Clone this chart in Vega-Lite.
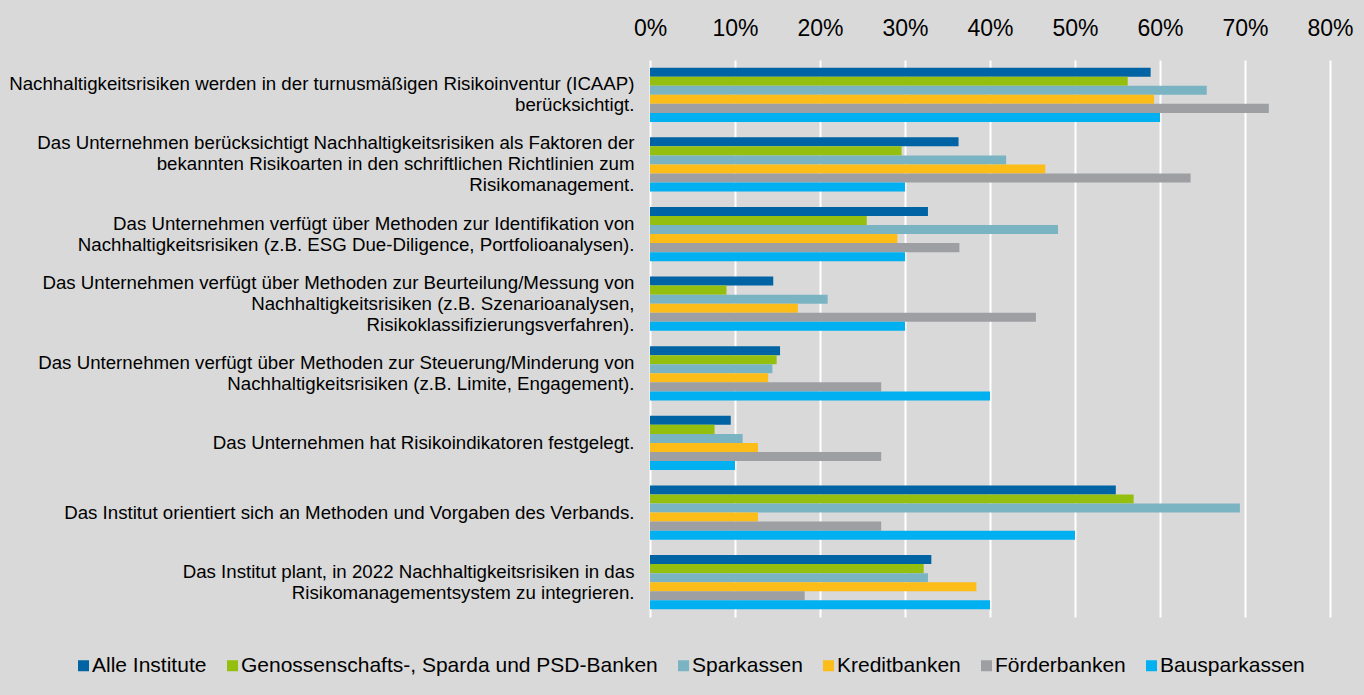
{
  "$schema": "https://vega.github.io/schema/vega-lite/v6.json",
  "width": 680,
  "height": 557,
  "autosize": {"type": "none"},
  "padding": {"left": 650, "top": 60, "right": 34, "bottom": 78},
  "background": "#d9d9d9",
  "config": {"view": {"stroke": null}, "font": "Liberation Sans"},
  "datasets": {
    "d": [
      {"frage": "Nachhaltigkeitsrisiken werden in der turnusmäßigen Risikoinventur (ICAAP)|berücksichtigt.", "gruppe": "Alle Institute", "wert": 0.589},
      {"frage": "Nachhaltigkeitsrisiken werden in der turnusmäßigen Risikoinventur (ICAAP)|berücksichtigt.", "gruppe": "Genossenschafts-, Sparda und PSD-Banken", "wert": 0.562},
      {"frage": "Nachhaltigkeitsrisiken werden in der turnusmäßigen Risikoinventur (ICAAP)|berücksichtigt.", "gruppe": "Sparkassen", "wert": 0.655},
      {"frage": "Nachhaltigkeitsrisiken werden in der turnusmäßigen Risikoinventur (ICAAP)|berücksichtigt.", "gruppe": "Kreditbanken", "wert": 0.593},
      {"frage": "Nachhaltigkeitsrisiken werden in der turnusmäßigen Risikoinventur (ICAAP)|berücksichtigt.", "gruppe": "Förderbanken", "wert": 0.728},
      {"frage": "Nachhaltigkeitsrisiken werden in der turnusmäßigen Risikoinventur (ICAAP)|berücksichtigt.", "gruppe": "Bausparkassen", "wert": 0.600},

      {"frage": "Das Unternehmen berücksichtigt Nachhaltigkeitsrisiken als Faktoren der|bekannten Risikoarten in den schriftlichen Richtlinien zum|Risikomanagement.", "gruppe": "Alle Institute", "wert": 0.363},
      {"frage": "Das Unternehmen berücksichtigt Nachhaltigkeitsrisiken als Faktoren der|bekannten Risikoarten in den schriftlichen Richtlinien zum|Risikomanagement.", "gruppe": "Genossenschafts-, Sparda und PSD-Banken", "wert": 0.296},
      {"frage": "Das Unternehmen berücksichtigt Nachhaltigkeitsrisiken als Faktoren der|bekannten Risikoarten in den schriftlichen Richtlinien zum|Risikomanagement.", "gruppe": "Sparkassen", "wert": 0.419},
      {"frage": "Das Unternehmen berücksichtigt Nachhaltigkeitsrisiken als Faktoren der|bekannten Risikoarten in den schriftlichen Richtlinien zum|Risikomanagement.", "gruppe": "Kreditbanken", "wert": 0.465},
      {"frage": "Das Unternehmen berücksichtigt Nachhaltigkeitsrisiken als Faktoren der|bekannten Risikoarten in den schriftlichen Richtlinien zum|Risikomanagement.", "gruppe": "Förderbanken", "wert": 0.636},
      {"frage": "Das Unternehmen berücksichtigt Nachhaltigkeitsrisiken als Faktoren der|bekannten Risikoarten in den schriftlichen Richtlinien zum|Risikomanagement.", "gruppe": "Bausparkassen", "wert": 0.300},

      {"frage": "Das Unternehmen verfügt über Methoden zur Identifikation von|Nachhaltigkeitsrisiken (z.B. ESG Due-Diligence, Portfolioanalysen).", "gruppe": "Alle Institute", "wert": 0.327},
      {"frage": "Das Unternehmen verfügt über Methoden zur Identifikation von|Nachhaltigkeitsrisiken (z.B. ESG Due-Diligence, Portfolioanalysen).", "gruppe": "Genossenschafts-, Sparda und PSD-Banken", "wert": 0.255},
      {"frage": "Das Unternehmen verfügt über Methoden zur Identifikation von|Nachhaltigkeitsrisiken (z.B. ESG Due-Diligence, Portfolioanalysen).", "gruppe": "Sparkassen", "wert": 0.480},
      {"frage": "Das Unternehmen verfügt über Methoden zur Identifikation von|Nachhaltigkeitsrisiken (z.B. ESG Due-Diligence, Portfolioanalysen).", "gruppe": "Kreditbanken", "wert": 0.291},
      {"frage": "Das Unternehmen verfügt über Methoden zur Identifikation von|Nachhaltigkeitsrisiken (z.B. ESG Due-Diligence, Portfolioanalysen).", "gruppe": "Förderbanken", "wert": 0.364},
      {"frage": "Das Unternehmen verfügt über Methoden zur Identifikation von|Nachhaltigkeitsrisiken (z.B. ESG Due-Diligence, Portfolioanalysen).", "gruppe": "Bausparkassen", "wert": 0.300},

      {"frage": "Das Unternehmen verfügt über Methoden zur Beurteilung/Messung von|Nachhaltigkeitsrisiken (z.B. Szenarioanalysen,|Risikoklassifizierungsverfahren).", "gruppe": "Alle Institute", "wert": 0.145},
      {"frage": "Das Unternehmen verfügt über Methoden zur Beurteilung/Messung von|Nachhaltigkeitsrisiken (z.B. Szenarioanalysen,|Risikoklassifizierungsverfahren).", "gruppe": "Genossenschafts-, Sparda und PSD-Banken", "wert": 0.090},
      {"frage": "Das Unternehmen verfügt über Methoden zur Beurteilung/Messung von|Nachhaltigkeitsrisiken (z.B. Szenarioanalysen,|Risikoklassifizierungsverfahren).", "gruppe": "Sparkassen", "wert": 0.209},
      {"frage": "Das Unternehmen verfügt über Methoden zur Beurteilung/Messung von|Nachhaltigkeitsrisiken (z.B. Szenarioanalysen,|Risikoklassifizierungsverfahren).", "gruppe": "Kreditbanken", "wert": 0.174},
      {"frage": "Das Unternehmen verfügt über Methoden zur Beurteilung/Messung von|Nachhaltigkeitsrisiken (z.B. Szenarioanalysen,|Risikoklassifizierungsverfahren).", "gruppe": "Förderbanken", "wert": 0.454},
      {"frage": "Das Unternehmen verfügt über Methoden zur Beurteilung/Messung von|Nachhaltigkeitsrisiken (z.B. Szenarioanalysen,|Risikoklassifizierungsverfahren).", "gruppe": "Bausparkassen", "wert": 0.300},

      {"frage": "Das Unternehmen verfügt über Methoden zur Steuerung/Minderung von|Nachhaltigkeitsrisiken (z.B. Limite, Engagement).", "gruppe": "Alle Institute", "wert": 0.153},
      {"frage": "Das Unternehmen verfügt über Methoden zur Steuerung/Minderung von|Nachhaltigkeitsrisiken (z.B. Limite, Engagement).", "gruppe": "Genossenschafts-, Sparda und PSD-Banken", "wert": 0.149},
      {"frage": "Das Unternehmen verfügt über Methoden zur Steuerung/Minderung von|Nachhaltigkeitsrisiken (z.B. Limite, Engagement).", "gruppe": "Sparkassen", "wert": 0.144},
      {"frage": "Das Unternehmen verfügt über Methoden zur Steuerung/Minderung von|Nachhaltigkeitsrisiken (z.B. Limite, Engagement).", "gruppe": "Kreditbanken", "wert": 0.139},
      {"frage": "Das Unternehmen verfügt über Methoden zur Steuerung/Minderung von|Nachhaltigkeitsrisiken (z.B. Limite, Engagement).", "gruppe": "Förderbanken", "wert": 0.272},
      {"frage": "Das Unternehmen verfügt über Methoden zur Steuerung/Minderung von|Nachhaltigkeitsrisiken (z.B. Limite, Engagement).", "gruppe": "Bausparkassen", "wert": 0.400},

      {"frage": "Das Unternehmen hat Risikoindikatoren festgelegt.", "gruppe": "Alle Institute", "wert": 0.095},
      {"frage": "Das Unternehmen hat Risikoindikatoren festgelegt.", "gruppe": "Genossenschafts-, Sparda und PSD-Banken", "wert": 0.076},
      {"frage": "Das Unternehmen hat Risikoindikatoren festgelegt.", "gruppe": "Sparkassen", "wert": 0.109},
      {"frage": "Das Unternehmen hat Risikoindikatoren festgelegt.", "gruppe": "Kreditbanken", "wert": 0.127},
      {"frage": "Das Unternehmen hat Risikoindikatoren festgelegt.", "gruppe": "Förderbanken", "wert": 0.272},
      {"frage": "Das Unternehmen hat Risikoindikatoren festgelegt.", "gruppe": "Bausparkassen", "wert": 0.100},

      {"frage": "Das Institut orientiert sich an Methoden und Vorgaben des Verbands.", "gruppe": "Alle Institute", "wert": 0.548},
      {"frage": "Das Institut orientiert sich an Methoden und Vorgaben des Verbands.", "gruppe": "Genossenschafts-, Sparda und PSD-Banken", "wert": 0.569},
      {"frage": "Das Institut orientiert sich an Methoden und Vorgaben des Verbands.", "gruppe": "Sparkassen", "wert": 0.694},
      {"frage": "Das Institut orientiert sich an Methoden und Vorgaben des Verbands.", "gruppe": "Kreditbanken", "wert": 0.127},
      {"frage": "Das Institut orientiert sich an Methoden und Vorgaben des Verbands.", "gruppe": "Förderbanken", "wert": 0.272},
      {"frage": "Das Institut orientiert sich an Methoden und Vorgaben des Verbands.", "gruppe": "Bausparkassen", "wert": 0.500},

      {"frage": "Das Institut plant, in 2022 Nachhaltigkeitsrisiken in das|Risikomanagementsystem zu integrieren.", "gruppe": "Alle Institute", "wert": 0.331},
      {"frage": "Das Institut plant, in 2022 Nachhaltigkeitsrisiken in das|Risikomanagementsystem zu integrieren.", "gruppe": "Genossenschafts-, Sparda und PSD-Banken", "wert": 0.322},
      {"frage": "Das Institut plant, in 2022 Nachhaltigkeitsrisiken in das|Risikomanagementsystem zu integrieren.", "gruppe": "Sparkassen", "wert": 0.327},
      {"frage": "Das Institut plant, in 2022 Nachhaltigkeitsrisiken in das|Risikomanagementsystem zu integrieren.", "gruppe": "Kreditbanken", "wert": 0.384},
      {"frage": "Das Institut plant, in 2022 Nachhaltigkeitsrisiken in das|Risikomanagementsystem zu integrieren.", "gruppe": "Förderbanken", "wert": 0.182},
      {"frage": "Das Institut plant, in 2022 Nachhaltigkeitsrisiken in das|Risikomanagementsystem zu integrieren.", "gruppe": "Bausparkassen", "wert": 0.400}
    ]
  },
  "data": {"name": "d"},
  "mark": {"type": "bar"},
  "encoding": {
    "y": {
      "field": "frage",
      "type": "nominal",
      "sort": null,
      "scale": {"paddingInner": 0.22, "paddingOuter": 0.11},
      "axis": {
        "title": null,
        "domain": false,
        "ticks": false,
        "labelExpr": "split(datum.label, '|')",
        "labelFontSize": 18.7,
        "labelLineHeight": 21,
        "labelColor": "#000000",
        "labelPadding": 16,
        "labelLimit": 700,
        "labelAlign": "right",
        "labelBaseline": "middle",
        "labelOffset": {"expr": "-(length(split(datum.value, '|')) - 1) * 10.5"}
      }
    },
    "yOffset": {
      "field": "gruppe",
      "type": "nominal",
      "sort": ["Alle Institute", "Genossenschafts-, Sparda und PSD-Banken", "Sparkassen", "Kreditbanken", "Förderbanken", "Bausparkassen"],
      "scale": {"paddingInner": 0, "paddingOuter": 0}
    },
    "x": {
      "field": "wert",
      "type": "quantitative",
      "scale": {"domain": [0, 0.8], "nice": false},
      "axis": {
        "orient": "top",
        "title": null,
        "format": ".0%",
        "values": [0, 0.1, 0.2, 0.3, 0.4, 0.5, 0.6, 0.7, 0.8],
        "domain": false,
        "ticks": false,
        "labelFlush": false,
        "labelFontSize": 23,
        "labelColor": "#000000",
        "labelPadding": 20,
        "gridColor": "#ffffff",
        "gridWidth": 2,
        "gridOpacity": 1
      }
    },
    "color": {
      "field": "gruppe",
      "type": "nominal",
      "sort": ["Alle Institute", "Genossenschafts-, Sparda und PSD-Banken", "Sparkassen", "Kreditbanken", "Förderbanken", "Bausparkassen"],
      "scale": {
        "domain": ["Alle Institute", "Genossenschafts-, Sparda und PSD-Banken", "Sparkassen", "Kreditbanken", "Förderbanken", "Bausparkassen"],
        "range": ["#0063a3", "#95bf0f", "#7ab4c3", "#fdbd19", "#9d9fa2", "#00b0f0"]
      },
      "legend": {
        "title": null,
        "orient": "none",
        "direction": "horizontal",
        "columns": 6,
        "legendX": -577,
        "legendY": 595,
        "symbolType": "square",
        "symbolSize": 121,
        "symbolStrokeWidth": 0,
        "symbolOpacity": 1,
        "labelFontSize": 21,
        "labelColor": "#000000",
        "labelLimit": 600,
        "labelOffset": -2,
        "columnPadding": 15
      }
    }
  }
}
